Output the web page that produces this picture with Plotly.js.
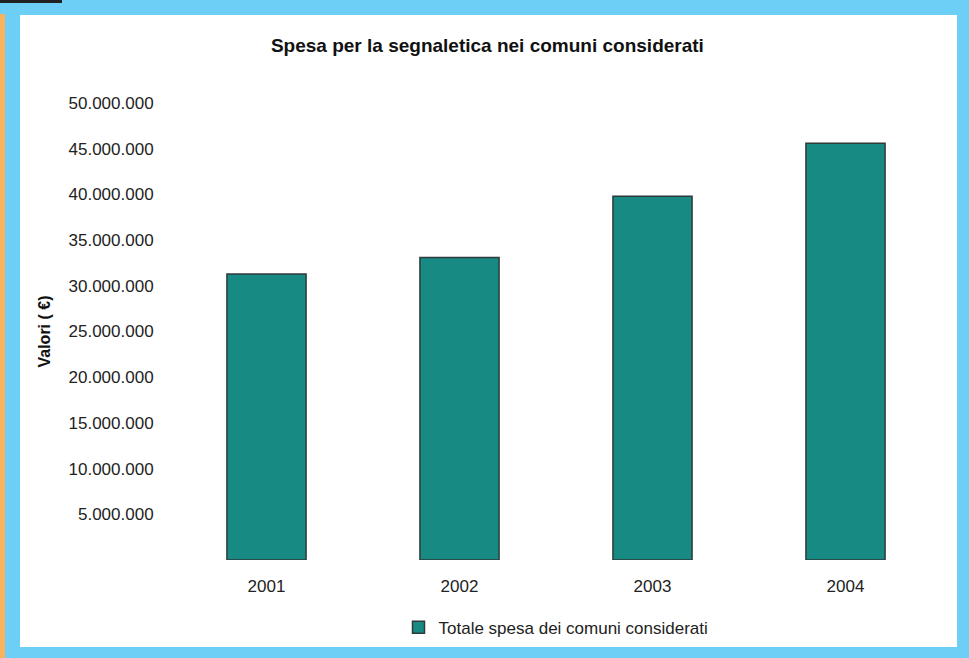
<!DOCTYPE html>
<html>
<head>
<meta charset="utf-8">
<script src="https://cdn.plot.ly/plotly-3.0.1.min.js"></script>
<style>
html,body{margin:0;padding:0;width:969px;height:658px;overflow:hidden;background:#6dcff6;}
#orange{position:absolute;left:0;top:14px;width:5px;height:644px;background:#f9b35c;}
#black{position:absolute;left:0;top:0;width:62px;height:3px;background:#222;}
#white{position:absolute;left:20px;top:15px;width:937px;height:632px;background:#ffffff;}
#chart{position:absolute;left:0;top:0;width:969px;height:658px;}
</style>
</head>
<body>
<div id="orange"></div>
<div id="black"></div>
<div id="white"></div>
<div id="chart"></div>
<script>
const years = ["2001", "2002", "2003", "2004"];
const spesaTotale = [31300000, 33100000, 39800000, 45600000];
const yTickVals = [5000000, 10000000, 15000000, 20000000, 25000000, 30000000, 35000000, 40000000, 45000000, 50000000];
const seriesName = "Totale spesa dei comuni considerati";
const chartTitle = "Spesa per la segnaletica nei comuni considerati";
const yTitle = "Valori ( €)";

const font = "Liberation Sans, Arial, sans-serif";

Plotly.newPlot("chart", [{
  type: "bar",
  x: years,
  y: spesaTotale,
  name: seriesName,
  showlegend: true,
  marker: {color: "#178a84", line: {color: "#2f3b3a", width: 1.5}},
  hoverinfo: "x+y"
}], {
  width: 969, height: 658,
  paper_bgcolor: "rgba(0,0,0,0)",
  plot_bgcolor: "rgba(0,0,0,0)",
  separators: ",.",
  margin: {l: 170, r: 27, t: 103, b: 96},
  bargap: 0.59,
  font: {family: font, color: "#222"},
  title: {
    text: "<b>" + chartTitle + "</b>",
    font: {family: font, size: 19, color: "#111"},
    xref: "container", x: 0.503, xanchor: "center",
    yref: "container", y: 1 - 45/658, yanchor: "middle"
  },
  xaxis: {
    type: "category",
    range: [-0.5, 3.5],
    showgrid: false, zeroline: false, showline: false,
    ticks: "outside", ticklen: 11, tickcolor: "rgba(0,0,0,0)",
    tickfont: {family: font, size: 17, color: "#222"}
  },
  yaxis: {
    range: [0, 50000000],
    tickvals: yTickVals,
    tickformat: ",d",
    showgrid: false, zeroline: false, showline: false,
    ticks: "outside", ticklen: 12, tickcolor: "rgba(0,0,0,0)",
    tickfont: {family: font, size: 17, color: "#222"},
    title: {text: "<b>" + yTitle + "</b>", font: {family: font, size: 16, color: "#111"}, standoff: 13}
  },
  legend: {
    orientation: "h",
    x: 0.5, xanchor: "center", xref: "paper",
    y: -68/459, yanchor: "middle",
    font: {family: font, size: 17, color: "#222"},
    bgcolor: "rgba(0,0,0,0)",
    itemwidth: 30
  }
}, {displayModeBar: false, staticPlot: true});
</script>
</body>
</html>
